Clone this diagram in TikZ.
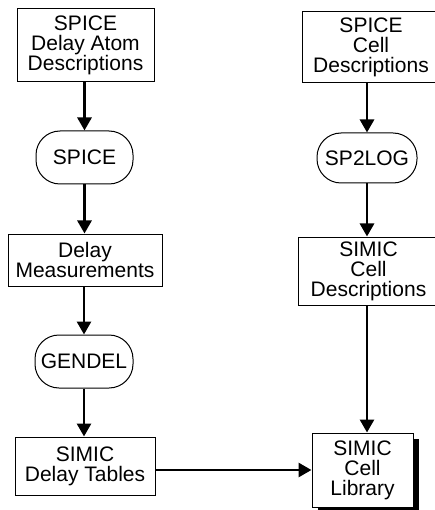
\documentclass[tikz,border=0pt]{standalone}
\usepackage{fontspec}
\setmainfont{Liberation Sans}
\usetikzlibrary{arrows.meta,shadows}
\begin{document}
\begin{tikzpicture}[x=1pt,y=-1pt,
  every node/.style={font=\fontsize{21}{20}\selectfont, align=center, inner sep=0pt},
  databox/.style={draw, line width=1pt, fill=white, rectangle},
  procbox/.style={draw, line width=1pt, fill=white, rectangle, rounded corners=24pt},
  flow/.style={line width=2.8pt, -{Triangle[width=14pt,length=13pt]}}
]
\useasboundingbox (0,0) rectangle (435,510);
\clip (0,0) rectangle (435,510);
\fill[white] (0,0) rectangle (435,510);
% left column
\node[databox, minimum width=137pt, minimum height=73pt] (atoms) at (85.5,45.5) {SPICE\\Delay Atom\\Descriptions};
\node[procbox, minimum width=97pt, minimum height=53pt] (spice) at (84.5,157.5) {SPICE};
\node[databox, minimum width=154pt, minimum height=52pt] (meas) at (85,260) {Delay\\Measurements};
\node[procbox, minimum width=98pt, minimum height=53pt] (gendel) at (84,361.5) {GENDEL};
\node[databox, minimum width=140pt, minimum height=58pt] (tables) at (85,466) {SIMIC\\Delay Tables};
% right column
\node[databox, minimum width=138pt, minimum height=71pt] (scd) at (371,47.5) {SPICE\\Cell\\Descriptions};
\node[procbox, minimum width=100pt, minimum height=50pt] (sp2log) at (367,158) {SP2LOG};
\node[databox, minimum width=141pt, minimum height=68pt] (simcd) at (368.5,271) {SIMIC\\Cell\\Descriptions};
\node[databox, minimum width=101pt, minimum height=74pt,
      drop shadow={shadow xshift=6pt, shadow yshift=-6pt, fill=black, opacity=1}] (lib) at (362.5,470) {SIMIC\\Cell\\Library};
% connectors
\draw[flow] (atoms.south -| spice) -- (spice.north);
\draw[flow] (spice.south) -- (meas.north -| spice);
\draw[flow] (meas.south -| gendel) -- (gendel.north);
\draw[flow] (gendel.south) -- (tables.north -| gendel);
\draw[flow] (scd.south -| sp2log) -- (sp2log.north);
\draw[flow] (sp2log.south) -- (simcd.north -| sp2log);
\draw[flow] (simcd.south -| sp2log) -- (lib.north -| sp2log);
\draw[flow] (tables.east |- lib.west) -- (lib.west);
\end{tikzpicture}
\end{document}
